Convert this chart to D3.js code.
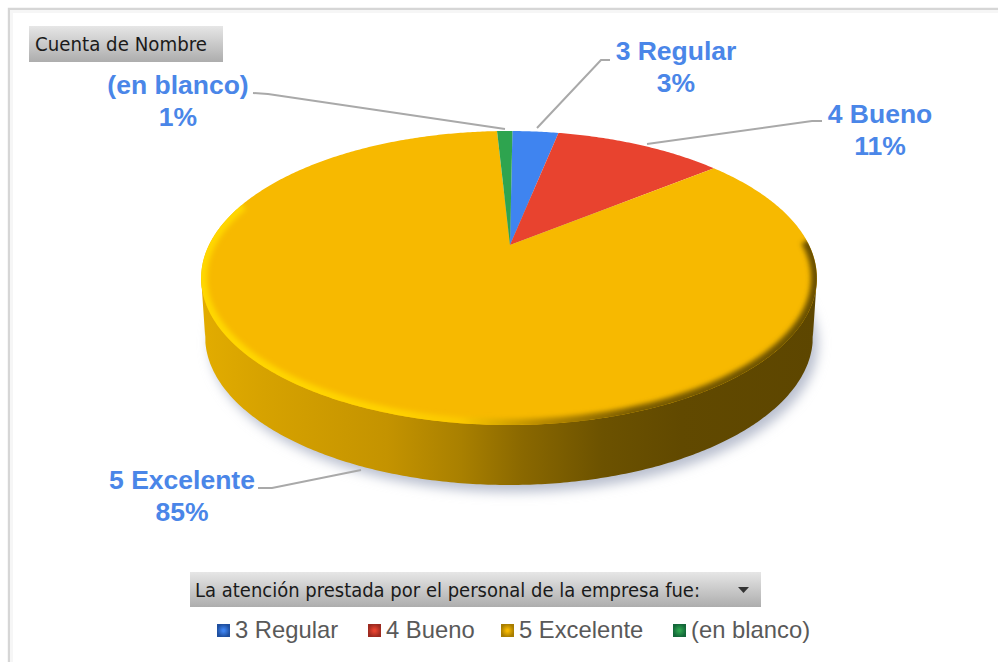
<!DOCTYPE html>
<html lang="es">
<head>
<meta charset="utf-8">
<title>La atención prestada por el personal de la empresa</title>
<script src="https://cdn.jsdelivr.net/npm/d3@7/dist/d3.min.js"></script>
<style>
  html, body { margin: 0; padding: 0; background: #fff; }
  svg { display: block; }
</style>
</head>
<body>
<div id="chart"></div>
<script>
// Survey answers: share of responses per rating
const categories = ["3 Regular", "4 Bueno", "5 Excelente", "(en blanco)"];
const percentages = [3, 11, 85, 1];
const sliceColors = ["#3f84f0", "#e8432f", "#f7b900", "#2ea44f"];
const swatchDark = ["#1f4f9f", "#9c2a20", "#a87d00", "#14683a"];
const fieldButton = "Cuenta de Nombre";
const filterButton = "La atención prestada por el personal de la empresa fue:";

const width = 998, height = 662;
const svg = d3.select("#chart").append("svg").attr("width", width).attr("height", height);
const defs = svg.append("defs");

// Perspective of the tilted disc: k controls foreshortening toward the back edge
const disc = { x0: 509, y0: 245, rx: 300, ryTerm: -84.6, k: 0.2245, depth: 60 };
const startRotation = 0.8 * Math.PI / 180;

const project = (angle, radius = 1) => {
  const u = radius * Math.sin(angle), v = radius * Math.cos(angle);
  const w = 1 + disc.k * v;
  return [disc.x0 + disc.rx * u / w, (disc.ryTerm * v + disc.y0) / w];
};

const pie = d3.pie().sort(null).startAngle(startRotation).endAngle(startRotation + 2 * Math.PI);
const arcs = pie(percentages);
const line = d3.line();

const rimPoints = (a0, a1) => {
  const n = Math.max(2, Math.ceil((a1 - a0) / 0.01));
  return d3.range(n + 1).map(i => project(a0 + (a1 - a0) * i / n));
};
const wholeRim = rimPoints(0, 2 * Math.PI);

// Gradients and filters
const vGrad = (id, top, bottom) => {
  const g = defs.append("linearGradient").attr("id", id).attr("x1", 0).attr("x2", 0).attr("y1", 0).attr("y2", 1);
  g.append("stop").attr("offset", 0).attr("stop-color", top);
  g.append("stop").attr("offset", 1).attr("stop-color", bottom);
};
vGrad("buttonFill", "#e6e6e6", "#adadad");

const hGrad = (id, stops) => {
  const g = defs.append("linearGradient").attr("id", id)
    .attr("gradientUnits", "userSpaceOnUse").attr("x1", 203).attr("x2", 817).attr("y1", 0).attr("y2", 0);
  stops.forEach(([o, c]) => g.append("stop").attr("offset", o).attr("stop-color", c));
};
hGrad("wallFill", [[0, "#e2ac00"], [0.1, "#d6a200"], [0.3, "#c49300"], [0.42, "#a98000"], [0.52, "#8a6800"], [0.65, "#6c5200"], [0.78, "#614900"], [1, "#5d4600"]]);
hGrad("bevelStroke", [[0, "#ffd800"], [0.3, "#ffd200"], [0.42, "#fbc800"], [0.55, "#b88a00"], [0.7, "#7a5c00"], [1, "#6a5000"]]);

const blur = (id, sd) => defs.append("filter").attr("id", id)
  .attr("x", "-20%").attr("y", "-20%").attr("width", "140%").attr("height", "140%")
  .append("feGaussianBlur").attr("stdDeviation", sd);
blur("shadowBlur", 6);
blur("bevelBlur", 2.6);

categories.forEach((_, i) => {
  const g = defs.append("radialGradient").attr("id", "swatch" + i);
  g.append("stop").attr("offset", 0.15).attr("stop-color", sliceColors[i]);
  g.append("stop").attr("offset", 1).attr("stop-color", swatchDark[i]);
});

defs.append("clipPath").attr("id", "topClip").append("path").attr("d", line(wholeRim) + "Z");

// Outer frame
svg.append("path").attr("d", `M9,${height}V9H${width}`).attr("fill", "none").attr("stroke", "#d6d6d6").attr("stroke-width", 2.4);
svg.append("path").attr("d", `M11.5,${height}V11.5H${width}`).attr("fill", "none").attr("stroke", "#f6f6f6").attr("stroke-width", 3);

// Lower edge of the disc, offset straight down from the lit surface
const lowerRim = wholeRim.map(([x, y]) => [509 + (x - 509) * 0.987, y + disc.depth * (0.95 + 0.05 * (y - 131) / 294)]);
const leftIdx = d3.scan(wholeRim, (a, b) => a[0] - b[0]);
const rightIdx = d3.scan(wholeRim, (a, b) => b[0] - a[0]);
const wallOutline = [wholeRim[leftIdx], ...lowerRim.filter(p => p[1] > 330).sort((a, b) => a[0] - b[0]), wholeRim[rightIdx]];

// Soft cast shadow
svg.append("path").attr("d", line(lowerRim) + "Z")
  .attr("transform", "translate(5,7)")
  .attr("fill", "#b9bfcf").attr("filter", "url(#shadowBlur)");

// Side wall
svg.append("path").attr("d", line(wallOutline) + "Z").attr("fill", "url(#wallFill)");

// Top surface slices
svg.selectAll("path.slice").data(arcs).join("path")
  .attr("class", "slice")
  .attr("fill", (d, i) => sliceColors[i])
  .attr("d", d => line([[disc.x0 + 1, disc.y0], ...rimPoints(d.startAngle, d.endAngle)]) + "Z");

// Rounded bevel on the front rim, clipped to the top surface
const frontRim = rimPoints(Math.PI * 0.49, Math.PI * 1.6);
svg.append("g").attr("clip-path", "url(#topClip)")
  .append("path").attr("d", line(frontRim)).attr("fill", "none")
  .attr("stroke", "url(#bevelStroke)").attr("stroke-width", 12).attr("filter", "url(#bevelBlur)");

// Field buttons
const button = (x, y, w, h, label, size, tx, tw) => {
  svg.append("rect").attr("x", x).attr("y", y).attr("width", w).attr("height", h).attr("fill", "url(#buttonFill)");
  svg.append("text").attr("x", tx).attr("y", y + h / 2 + 7)
    .attr("font-family", "'DejaVu Sans', sans-serif").attr("font-size", size).attr("fill", "#1a1a1a")
    .attr("textLength", tw).attr("lengthAdjust", "spacingAndGlyphs").text(label);
};
button(29, 26, 194, 36, fieldButton, 20, 35, 172);
button(190, 572, 571, 35, filterButton, 20, 195, 505);
svg.append("path").attr("d", d3.line()([[738, 587], [749, 587], [743.5, 593]]) + "Z").attr("fill", "#333");

// Leader lines from each slice to its data label
const leaders = [
  [[537, 128], [601, 60], [610, 60]],
  [[647, 144], [812, 121], [822, 121]],
  [[361, 470], [272, 488], [258, 488]],
  [[505, 129], [268, 94], [253, 93]]
];
const labelAnchors = [[676, 60], [880, 123], [182, 489], [178, 94]];
svg.selectAll("path.leader").data(leaders).join("path")
  .attr("class", "leader").attr("d", d => line(d))
  .attr("fill", "none").attr("stroke", "#a9a9a9").attr("stroke-width", 2);

// Data labels: category on the first line, share on the second
const labels = svg.selectAll("g.label").data(categories).join("g")
  .attr("class", "label")
  .attr("transform", (d, i) => `translate(${labelAnchors[i][0]},${labelAnchors[i][1]})`)
  .attr("text-anchor", "middle")
  .attr("font-family", "'Liberation Sans', Arial, sans-serif")
  .attr("font-weight", 700).attr("font-size", 26.5).attr("fill", "#4a86e8");
labels.append("text").text(d => d);
labels.append("text").attr("y", 32).text((d, i) => percentages[i] + "%");

// Legend
const legendX = d3.scaleOrdinal().domain(categories).range([217, 368, 501, 673]);
const legend = svg.selectAll("g.legend").data(categories).join("g")
  .attr("class", "legend")
  .attr("transform", d => `translate(${legendX(d)},624)`);
legend.append("rect").attr("width", 13).attr("height", 13).attr("fill", (d, i) => `url(#swatch${i})`);
legend.append("text").attr("x", 18).attr("y", 14)
  .attr("font-family", "'Liberation Sans', Arial, sans-serif")
  .attr("font-size", 23.8).attr("fill", "#595959").text(d => d);
</script>
</body>
</html>
